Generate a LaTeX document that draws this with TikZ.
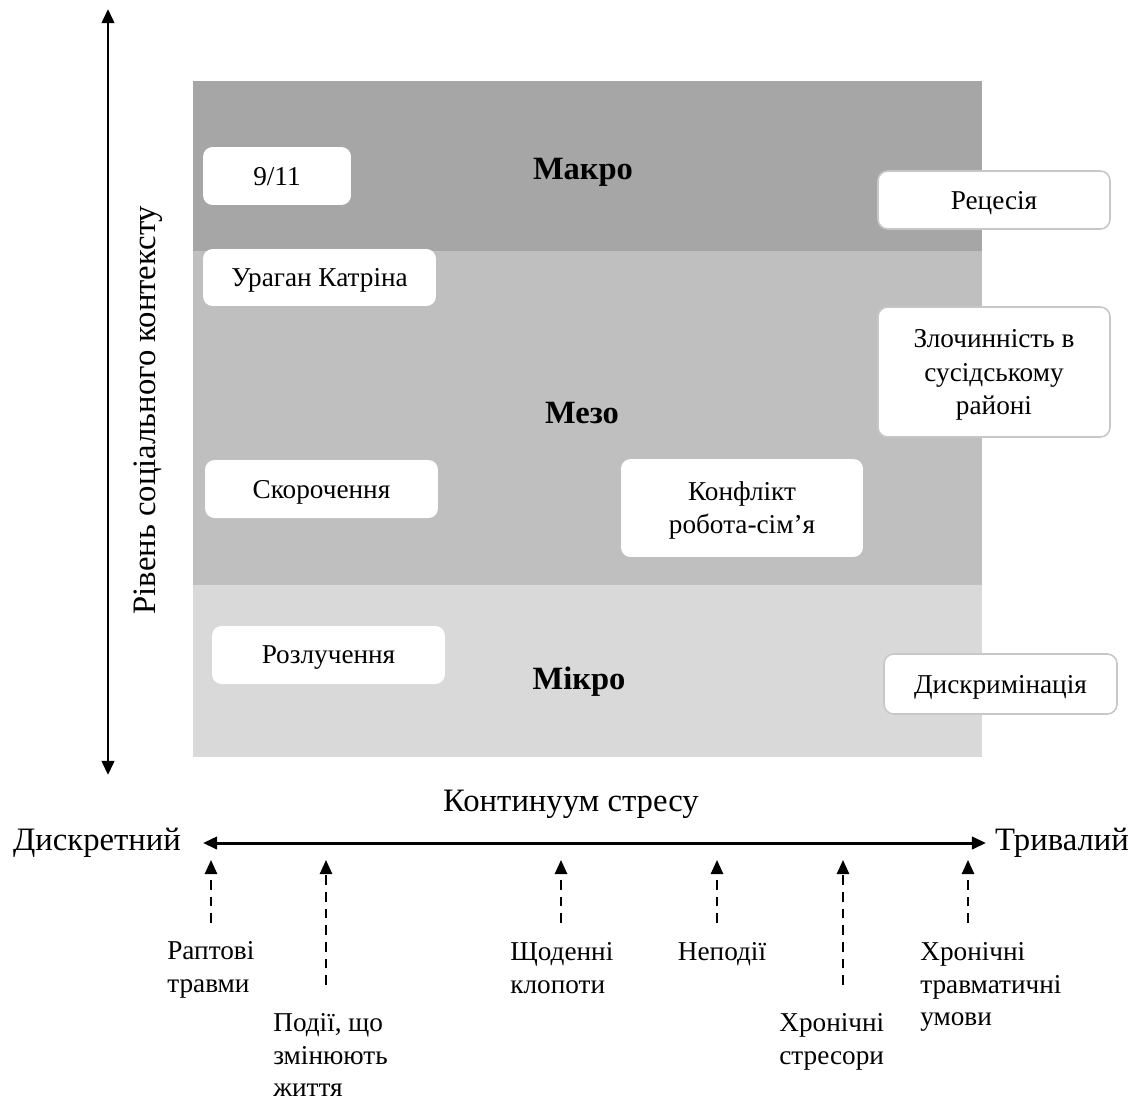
\documentclass[tikz,border=0pt]{standalone}
\usepackage{fontspec}
\setmainfont{Liberation Serif}
\usetikzlibrary{arrows.meta,positioning}

\definecolor{macrogray}{HTML}{A6A6A6}
\definecolor{mesogray}{HTML}{BFBFBF}
\definecolor{microgray}{HTML}{D9D9D9}

\begin{document}
\begin{tikzpicture}[x=0.02cm, y=-0.02cm, >={Triangle[length=8pt,width=7pt]},
    box/.style={fill=white, rounded corners=5.5pt, align=center, inner sep=0pt,
      text depth=0pt, font=\fontsize{15.5}{18.8}\selectfont},
    edgebox/.style={box, draw=black!22, line width=0.9pt},
    level/.style={text depth=0pt, font=\fontsize{18.5}{22}\selectfont\bfseries},
    axislabel/.style={font=\fontsize{18.6}{23}\selectfont},
    kind/.style={font=\fontsize{15.5}{18.6}\selectfont, align=left, inner sep=0pt, anchor=north west},
    pointer/.style={->, dash pattern=on 5.5pt off 4pt, line width=1.1pt}]
  \useasboundingbox (0,0) rectangle (1135,1102);

  % levels of social context
  \fill[macrogray] (193,81) rectangle (982,251);
  \fill[mesogray] (193,251) rectangle (982,585);
  \fill[microgray] (193,585) rectangle (982,757);

  \node[level] (macro) at (583,169) {Макро};
  \node[level] (meso) at (582,413) {Мезо};
  \node[level] (micro) at (579,678) {Мікро};

  % stressors
  \node[box, minimum width=2.96cm, minimum height=1.16cm] (nine) at (277,176) {9/11};
  \node[box, minimum width=4.66cm, minimum height=1.14cm] (katrina) at (319.5,277.5) {Ураган Катріна};
  \node[box, minimum width=4.66cm, minimum height=1.16cm] (layoff) at (321.5,489) {Скорочення};
  \node[box, minimum width=4.84cm, minimum height=1.96cm] (conflict) at (742,508) {Конфлікт\\робота-сім’я};
  \node[box, minimum width=4.66cm, minimum height=1.16cm] (divorce) at (328.5,655) {Розлучення};
  \node[edgebox, minimum width=4.64cm, minimum height=1.16cm] (recession) at (994,200) {Рецесія};
  \node[edgebox, minimum width=4.64cm, minimum height=2.6cm] (crime) at (994,372) {Злочинність в\\сусідському\\районі};
  \node[edgebox, minimum width=4.66cm, minimum height=1.2cm] (discrim) at (1000.5,684) {Дискримінація};

  % axes
  \coordinate (vtop) at (108,9);
  \coordinate (vbot) at (108,775);
  \draw[<->, line width=1.7pt] (vbot) -- (vtop);
  \node[axislabel, rotate=90] (social) at (148,410) {Рівень соціального контексту};

  \node[axislabel] (continuum) at (571,804) {Континуум стресу};
  \node[axislabel] (discrete) at (97,843) {Дискретний};
  \node[axislabel] (lasting) at (1062,843) {Тривалий};
  \coordinate (hl) at (203,843);
  \coordinate (hr) at (986,843);
  \draw[<->, line width=1.7pt] (hl) -- (hr);

  % kinds of stress
  \node[kind] (sudden) at (167,941) {Раптові\\травми};
  \node[kind] (events) at (273,1013) {Події, що\\змінюють\\життя};
  \node[kind] (hassles) at (510,942) {Щоденні\\клопоти};
  \node[kind, anchor=north] (nonevents) at (722,942) {Неподії};
  \node[kind] (chronic) at (779,1013) {Хронічні\\стресори};
  \node[kind] (trauma) at (920,942) {Хронічні\\травматичні\\умови};

  \foreach \name/\px/\py in {sudden/211/923, events/326/985, hassles/561/923,
      nonevents/717/923, chronic/843/985, trauma/968/923} {
    \coordinate (\name-top) at (\px,860);
    \coordinate (\name-bot) at (\px,\py);
    \draw[pointer] (\name-bot) -- (\name-top);
  }
\end{tikzpicture}
\end{document}
